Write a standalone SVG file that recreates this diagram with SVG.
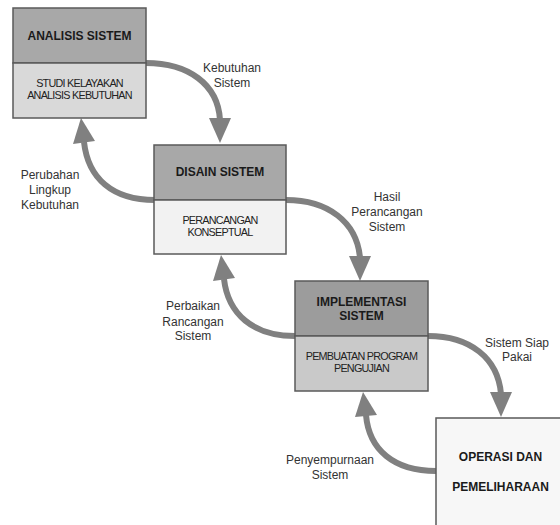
<svg xmlns="http://www.w3.org/2000/svg" width="560" height="525" viewBox="0 0 560 525">
<style>
.box{stroke:#5a5a5a;stroke-width:1.5}
.t{font-family:"Liberation Sans",Arial,sans-serif;font-weight:bold;font-size:12px;fill:#1a1a1a;text-anchor:middle}
.s{font-family:"Liberation Sans",Arial,sans-serif;font-size:10.8px;letter-spacing:-0.75px;fill:#222;text-anchor:middle}
.l{font-family:"Liberation Sans",Arial,sans-serif;font-size:12px;fill:#333;text-anchor:middle}
.c{fill:none;stroke:#808080;stroke-width:6}
.h{fill:#808080}
</style>
<rect width="560" height="525" fill="#fff"/>
<g id="connectors">
<path class="c" d="M146,63 C188,63 218,84 220,120"/>
<polygon class="h" points="209,118 231,118 220,143"/>
<path class="c" d="M155,200 C112,200 88,178 84,142"/>
<polygon class="h" points="73,144 95,141 81,118"/>
<path class="c" d="M286,200 C328,200 357,222 360,258"/>
<polygon class="h" points="349,256 371,256 360,281"/>
<path class="c" d="M295,336 C253,336 228,314 224,279"/>
<polygon class="h" points="213,281 235,278 221,255"/>
<path class="c" d="M428,336 C470,336 498,358 501,394"/>
<polygon class="h" points="490,392 512,392 501,417"/>
<path class="c" d="M436,471 C394,471 369,450 366,415"/>
<polygon class="h" points="355,417 377,415 363,392"/>
</g>
<g id="analisis">
<rect class="box" x="13" y="8" width="133" height="55" fill="#a8a8a8"/>
<rect class="box" x="13" y="63" width="133" height="55" fill="#d9d9d9"/>
<text class="t" x="79.5" y="40">ANALISIS SISTEM</text>
<text class="s" x="79.5" y="87">STUDI KELAYAKAN</text>
<text class="s" x="79.5" y="99">ANALISIS KEBUTUHAN</text>
</g>
<g id="disain">
<rect class="box" x="154" y="145" width="132" height="55" fill="#a8a8a8"/>
<rect class="box" x="154" y="200" width="132" height="54" fill="#f2f2f2"/>
<text class="t" x="220" y="176">DISAIN SISTEM</text>
<text class="s" x="220" y="224">PERANCANGAN</text>
<text class="s" x="220" y="236">KONSEPTUAL</text>
</g>
<g id="implementasi">
<rect class="box" x="295" y="281" width="133" height="55" fill="#9c9c9c"/>
<rect class="box" x="295" y="336" width="133" height="55" fill="#c9c9c9"/>
<text class="t" x="361.5" y="306">IMPLEMENTASI</text>
<text class="t" x="361.5" y="320">SISTEM</text>
<text class="s" x="361.5" y="360">PEMBUATAN PROGRAM</text>
<text class="s" x="361.5" y="372">PENGUJIAN</text>
</g>
<g id="operasi">
<rect class="box" x="436" y="418" width="140" height="120" fill="#f7f7f7"/>
<text class="t" x="500.5" y="461">OPERASI DAN</text>
<text class="t" x="500.5" y="491">PEMELIHARAAN</text>
</g>
<g id="labels">
<text class="l" x="232" y="72">Kebutuhan</text>
<text class="l" x="232" y="87">Sistem</text>
<text class="l" x="50" y="179">Perubahan</text>
<text class="l" x="50" y="194">Lingkup</text>
<text class="l" x="50" y="209">Kebutuhan</text>
<text class="l" x="387" y="201">Hasil</text>
<text class="l" x="387" y="216">Perancangan</text>
<text class="l" x="387" y="231">Sistem</text>
<text class="l" x="193" y="310">Perbaikan</text>
<text class="l" x="193" y="326">Rancangan</text>
<text class="l" x="193" y="340">Sistem</text>
<text class="l" x="517" y="347">Sistem Siap</text>
<text class="l" x="517" y="361">Pakai</text>
<text class="l" x="330" y="464">Penyempurnaan</text>
<text class="l" x="330" y="479">Sistem</text>
</g>
</svg>
